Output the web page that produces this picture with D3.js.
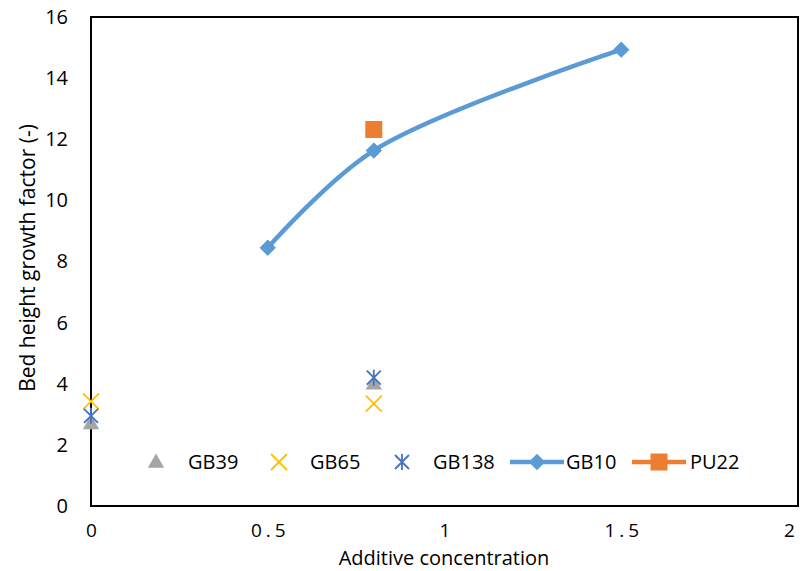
<!DOCTYPE html>
<html>
<head>
<meta charset="utf-8">
<script src="https://cdn.jsdelivr.net/npm/d3@7/dist/d3.min.js"></script>
<style>
  html, body { margin: 0; padding: 0; background: #fff; }
  svg text { font-family: "Open Sans", "Noto Sans", sans-serif; fill: #000; }
</style>
</head>
<body>
<svg id="chart" width="803" height="571"></svg>
<script>
// Bed height growth factor against additive concentration
const xTicks = [0, 0.5, 1, 1.5, 2];
const yTicks = [0, 2, 4, 6, 8, 10, 12, 14, 16];

const gb39X = [0, 0.8];
const gb39Y = [2.7, 4.0];
const gb65X = [0, 0.8];
const gb65Y = [3.42, 3.35];
const gb138X = [0, 0.8];
const gb138Y = [2.95, 4.2];
const gb10X = [0.5, 0.8, 1.5];
const gb10Y = [8.45, 11.63, 14.93];
const pu22X = [0.8];
const pu22Y = [12.32];

const legendNames = ["GB39", "GB65", "GB138", "GB10", "PU22"];

const colors = {
  GB39: "#a5a5a5",
  GB65: "#ffc000",
  GB138: "#4472c4",
  GB10: "#5b9bd5",
  PU22: "#ed7d31"
};

const svg = d3.select("#chart");
const plotL = 91, plotR = 798, plotT = 17, plotB = 506;

const x = d3.scaleLinear().domain([0, 2]).range([plotL, plotR]);
const y = d3.scaleLinear().domain([0, 16]).range([plotB, plotT]);

const zip = (xs, ys) => xs.map((v, i) => [v, ys[i]]);

// plot frame
svg.append("rect")
  .attr("x", plotL).attr("y", plotT)
  .attr("width", plotR - plotL).attr("height", plotB - plotT)
  .attr("fill", "none").attr("stroke", "#000").attr("stroke-width", 2);

// axes (labels only; the frame draws the lines)
const spacing = 4;
const xAxis = svg.append("g")
  .attr("transform", `translate(0,${plotB})`)
  .call(d3.axisBottom(x).tickValues(xTicks).tickSize(0).tickPadding(18)
    .tickFormat(d => String(d)));
xAxis.select(".domain").remove();
xAxis.selectAll("text")
  .attr("font-size", 19).attr("font-family", null)
  .style("letter-spacing", spacing + "px")
  .attr("dx", (d) => d === 2 ? -7 : spacing / 2);

const yAxis = svg.append("g")
  .attr("transform", `translate(${plotL},0)`)
  .call(d3.axisLeft(y).tickValues(yTicks).tickSize(0).tickPadding(23));
yAxis.select(".domain").remove();
yAxis.selectAll("text").attr("font-size", 20).attr("font-family", null);

svg.append("text")
  .attr("x", 444).attr("y", 565)
  .attr("text-anchor", "middle").attr("font-size", 20)
  .text("Additive concentration");

svg.append("text")
  .attr("transform", `translate(35,258) rotate(-90)`)
  .attr("text-anchor", "middle").attr("font-size", 21)
  .text("Bed height growth factor (-)");

// marker drawers
function triangle(g, cx, cy, c) {
  g.append("path").attr("d", d3.symbol(d3.symbolTriangle, 115)())
    .attr("transform", `translate(${cx},${cy + 1})`).attr("fill", c);
}
function cross(g, cx, cy, c) {
  const s = 8;
  g.append("path")
    .attr("d", `M${cx - s},${cy - s}L${cx + s},${cy + s}M${cx - s},${cy + s}L${cx + s},${cy - s}`)
    .attr("stroke", c).attr("stroke-width", 1.8).attr("fill", "none");
}
function star(g, cx, cy, c) {
  const s = 7;
  g.append("path")
    .attr("d", `M${cx - s},${cy - s}L${cx + s},${cy + s}M${cx - s},${cy + s}L${cx + s},${cy - s}M${cx},${cy - s - 1}L${cx},${cy + s + 1}`)
    .attr("stroke", c).attr("stroke-width", 1.8).attr("fill", "none");
}
function diamond(g, cx, cy, c) {
  g.append("path").attr("d", d3.symbol(d3.symbolDiamond2, 150)())
    .attr("transform", `translate(${cx},${cy})`).attr("fill", c)
    .attr("stroke", c).attr("stroke-width", 1).attr("stroke-linejoin", "round");
}
function square(g, cx, cy, c) {
  g.append("rect").attr("x", cx - 8.5).attr("y", cy - 8.5)
    .attr("width", 17).attr("height", 17).attr("fill", c);
}

const marks = svg.append("g");

// GB10 smoothed line
marks.append("path")
  .datum(zip(gb10X, gb10Y))
  .attr("d", d3.line().x(d => x(d[0])).y(d => y(d[1])).curve(d3.curveCatmullRom.alpha(0.5)))
  .attr("fill", "none").attr("stroke", colors.GB10).attr("stroke-width", 4.5);
zip(gb10X, gb10Y).forEach(d => diamond(marks, x(d[0]), y(d[1]), colors.GB10));

zip(pu22X, pu22Y).forEach(d => square(marks, x(d[0]), y(d[1]), colors.PU22));
zip(gb39X, gb39Y).forEach(d => triangle(marks, x(d[0]), y(d[1]), colors.GB39));
zip(gb65X, gb65Y).forEach(d => cross(marks, x(d[0]), y(d[1]), colors.GB65));
zip(gb138X, gb138Y).forEach(d => star(marks, x(d[0]), y(d[1]), colors.GB138));

// legend
const lg = svg.append("g");
const ly = 462;
const lfs = 20;
triangle(lg, 156, ly, colors.GB39);
lg.append("text").attr("x", 188).attr("y", ly + 7).attr("font-size", lfs).text(legendNames[0]);
cross(lg, 279, ly, colors.GB65);
lg.append("text").attr("x", 310).attr("y", ly + 7).attr("font-size", lfs).text(legendNames[1]);
star(lg, 402, ly, colors.GB138);
lg.append("text").attr("x", 433).attr("y", ly + 7).attr("font-size", lfs).text(legendNames[2]);
lg.append("line").attr("x1", 510).attr("x2", 564).attr("y1", ly).attr("y2", ly)
  .attr("stroke", colors.GB10).attr("stroke-width", 4.5);
diamond(lg, 537, ly, colors.GB10);
lg.append("text").attr("x", 566).attr("y", ly + 7).attr("font-size", lfs).text(legendNames[3]);
lg.append("line").attr("x1", 632).attr("x2", 686).attr("y1", ly).attr("y2", ly)
  .attr("stroke", colors.PU22).attr("stroke-width", 4.5);
square(lg, 659, ly, colors.PU22);
lg.append("text").attr("x", 690).attr("y", ly + 7).attr("font-size", lfs).text(legendNames[4]);
</script>
</body>
</html>
